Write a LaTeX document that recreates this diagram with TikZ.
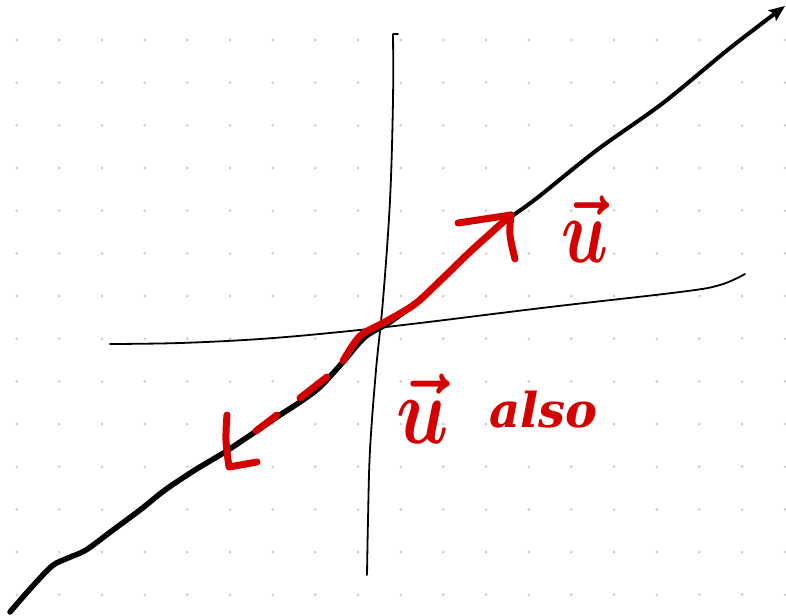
\documentclass[tikz,border=0pt]{standalone}
\usepackage{amsmath,bm}
\usepackage{fontspec}
\newfontfamily\handfont{DejaVu Serif}
\usetikzlibrary{arrows.meta}
\definecolor{penred}{RGB}{212,0,0}
\definecolor{dotgray}{RGB}{200,200,200}
\tikzset{
  blackpen/.style={line cap=round,line join=round,draw=black},
  axispen/.style={line cap=round,line join=round,draw=black,line width=1.8pt},
  redpen/.style={line cap=round,line join=round,draw=penred,line width=7pt},
  redtext/.style={text=penred,inner sep=0pt,outer sep=0pt}
}
\begin{document}
\begin{tikzpicture}[x=1pt,y=-1pt]
\useasboundingbox (0,0) rectangle (786,615);
\fill[white] (0,0) rectangle (786,615);
% dot grid
\foreach \i in {0,...,18}{
  \foreach \j in {0,...,13}{
    \fill[dotgray] ({16.7+42.67*\i},{40+42.67*\j}) circle (1.4);
  }
}
% axes
\draw[axispen] plot[smooth,tension=0.6] coordinates {(110,344) (180,343) (260,339) (340,332) (420,323) (550,307) (680,292) (720,285) (745,274)};
\draw[axispen] (398,34) -- (393,34) plot[smooth,tension=0.6] coordinates {(393,34) (393,100) (390,200) (383,300) (376,370) (370,450) (368,520) (367,575)};
% main line
\draw[blackpen,line width=5.5pt] plot[smooth,tension=0.5] coordinates {(10,612) (30,589) (52,566) (68,558) (86,550) (113,530) (140,510) (165,490) (195,470) (225,452) (255,432) (280,415) (300,402) (320,387) (343,362) (365,337) (390,322) (417,302)};
\draw[blackpen,line width=4pt,-{Stealth[length=16pt,width=13pt,inset=3pt]}] plot[smooth,tension=0.5] coordinates {(417,302) (440,280) (470,252) (503,223) (537,198) (597,150) (663,103) (730,48) (785,6)};
% red upper arrow
\coordinate (o) at (343,361);
\coordinate (tip) at (511,215);
\draw[redpen] plot[smooth,tension=0.5] coordinates {(343,361) (360,336) (385,322) (415,304) (442,279) (472,250) (511,215)};
\draw[redpen] (458,223) -- (tip);
\draw[redpen] plot[smooth,tension=0.6] coordinates {(511,215) (510,235) (515,259)};
% red lower dashed arrow
\draw[redpen] (327,377) -- (300,398);
\draw[redpen] (277,415) -- (256,431);
\draw[redpen] plot[smooth,tension=0.6] coordinates {(227,415) (226,440) (229,467)} -- (257,462);
% labels
\node[redtext,anchor=base west,xscale=6.9,yscale=9.2] (u1) at (561,262) {$\bm{\vec{u}}$};
\node[redtext,anchor=base west,xscale=7.7,yscale=9.6] (u2) at (396,443) {$\bm{\vec{u}}$};
\node[redtext,anchor=base west] (also) at (489,427) {\fontsize{48}{48}\selectfont\handfont\bfseries\itshape also};
\end{tikzpicture}
\end{document}
